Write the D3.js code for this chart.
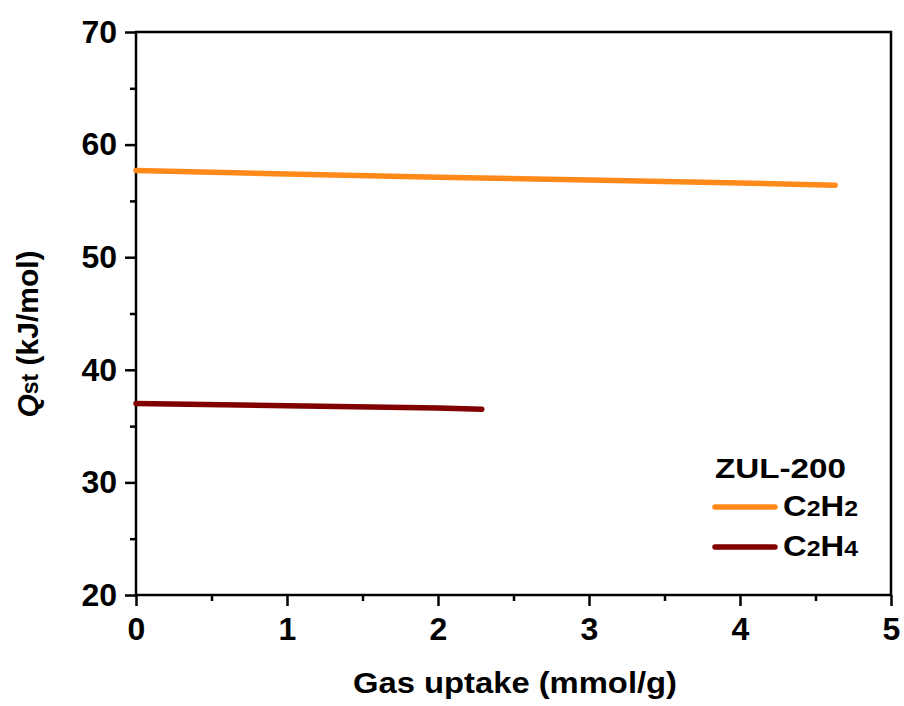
<!DOCTYPE html>
<html>
<head>
<meta charset="utf-8">
<script src="https://cdn.jsdelivr.net/npm/d3@7"></script>
<style>
  body { margin: 0; background: #fff; }
  text { font-family: "Liberation Sans", Arial, sans-serif; font-weight: bold; }
</style>
</head>
<body>
<div id="container"></div>
<script>
// values
var c2h2Uptake = [0, 1, 2, 3, 4, 4.63];
var c2h2Qst    = [57.7, 57.4, 57.1, 56.85, 56.6, 56.4];
var c2h4Uptake = [0, 1, 2, 2.29];
var c2h4Qst    = [37.0, 36.8, 36.6, 36.5];
var xTicks = [0, 1, 2, 3, 4, 5];
var yTicks = [20, 30, 40, 50, 60, 70];
var seriesNames = ["C2H2", "C2H4"];
var seriesColors = ["#ff8a1a", "#800000"];

var width = 904, height = 706;
var margin = { top: 32, right: 13, bottom: 111, left: 136 };
var w = width - margin.left - margin.right,
    h = height - margin.top - margin.bottom;

var svg = d3.select("#container").append("svg")
    .attr("width", width)
    .attr("height", height);

var g = svg.append("g")
    .attr("transform", "translate(" + margin.left + "," + margin.top + ")");

var x = d3.scaleLinear().domain([0, 5]).range([0, w]);
var y = d3.scaleLinear().domain([20, 70]).range([h, 0]);

// minor ticks
var xMinor = d3.range(0.5, 5, 1);
var yMinor = d3.range(25, 70, 10);

g.append("g")
    .attr("transform", "translate(0," + h + ")")
    .call(d3.axisBottom(x).tickValues(xTicks).tickFormat(d3.format("d")).tickSize(11).tickPadding(11));
g.append("g")
    .attr("transform", "translate(0," + h + ")")
    .call(d3.axisBottom(x).tickValues(xMinor).tickFormat("").tickSize(6));

g.append("g")
    .call(d3.axisLeft(y).tickValues(yTicks).tickFormat(d3.format("d")).tickSize(11).tickPadding(8));
g.append("g")
    .call(d3.axisLeft(y).tickValues(yMinor).tickFormat("").tickSize(6));

g.selectAll(".domain").remove();
g.selectAll(".tick line").attr("stroke", "#000").attr("stroke-width", 2.5);
g.selectAll(".tick text").attr("fill", "#000").style("font-size", "32px");

// frame
g.append("rect")
    .attr("width", w)
    .attr("height", h)
    .attr("fill", "none")
    .attr("stroke", "#000")
    .attr("stroke-width", 2.5);

var line = d3.line()
    .x(function (d) { return x(d[0]); })
    .y(function (d) { return y(d[1]); });

var series = [
    d3.zip(c2h2Uptake, c2h2Qst),
    d3.zip(c2h4Uptake, c2h4Qst)
];

series.forEach(function (pts, i)
{
    g.append("path")
        .datum(pts)
        .attr("fill", "none")
        .attr("stroke", seriesColors[i])
        .attr("stroke-width", 5.5)
        .attr("stroke-linecap", "round")
        .attr("d", line);
});

// axis titles
svg.append("text")
    .attr("x", 353)
    .attr("y", 693)
    .attr("textLength", 324)
    .attr("lengthAdjust", "spacingAndGlyphs")
    .style("font-size", "29px")
    .text("Gas uptake (mmol/g)");

var yl = svg.append("text")
    .attr("transform", "translate(38," + 334 + ") rotate(-90)")
    .attr("text-anchor", "middle")
    .style("font-size", "30px");
yl.append("tspan").style("font-style", "italic").text("Q");
yl.append("tspan").style("font-size", "23px").text("st");
yl.append("tspan").text(" (kJ/mol)");

// legend
var legend = svg.append("g");
legend.append("text")
    .attr("x", 715)
    .attr("y", 478)
    .attr("textLength", 131)
    .attr("lengthAdjust", "spacingAndGlyphs")
    .style("font-size", "28px")
    .text("ZUL-200");

seriesNames.forEach(function (name, i)
{
    var ly = 507 + i * 40;
    legend.append("line")
        .attr("x1", 715).attr("x2", 775)
        .attr("y1", ly).attr("y2", ly)
        .attr("stroke", seriesColors[i])
        .attr("stroke-width", 5.5)
        .attr("stroke-linecap", "round");
    var t = legend.append("text")
        .attr("x", 783)
        .attr("y", ly + 9)
        .attr("textLength", 75)
        .attr("lengthAdjust", "spacingAndGlyphs")
        .style("font-size", "29px");
    t.append("tspan").text(name[0]);
    t.append("tspan").style("font-size", "22px").text(name[1]);
    t.append("tspan").text(name[2]);
    t.append("tspan").style("font-size", "22px").text(name[3]);
});
</script>
</body>
</html>
